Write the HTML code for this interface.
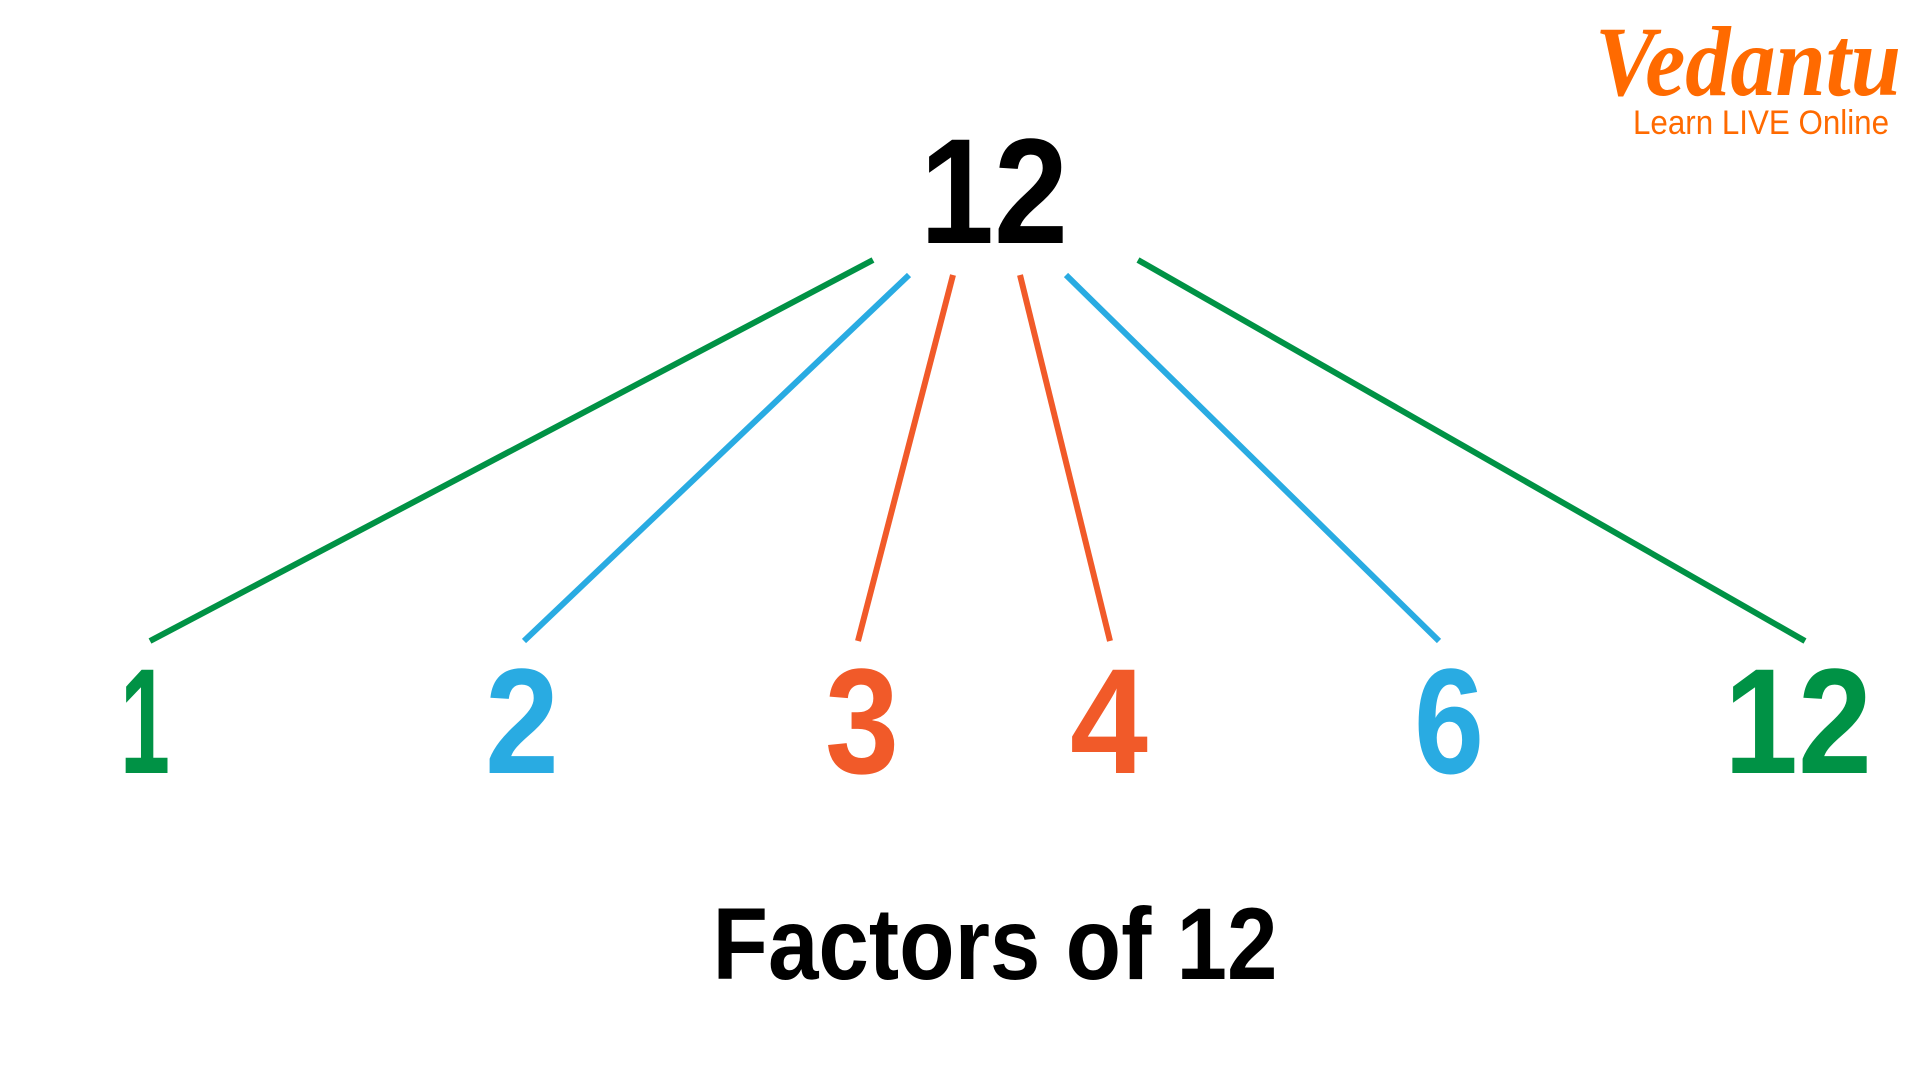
<!DOCTYPE html>
<html><head><meta charset="utf-8"><style>
html,body{margin:0;padding:0;background:#fff;width:1920px;height:1080px;overflow:hidden}
svg text{font-family:"Liberation Sans",sans-serif;font-weight:bold}
</style></head><body>
<svg width="1920" height="1080" viewBox="0 0 1920 1080" xmlns="http://www.w3.org/2000/svg">
<text x="994" y="243" font-size="150" text-anchor="middle" fill="#000" textLength="148" lengthAdjust="spacingAndGlyphs">12</text>
<g stroke-width="6" fill="none">
<line x1="873" y1="260" x2="150" y2="641" stroke="#009245"/>
<line x1="909" y1="275" x2="524" y2="641" stroke="#29abe2"/>
<line x1="953" y1="275" x2="858" y2="641" stroke="#f15a29"/>
<line x1="1020" y1="275" x2="1110" y2="641" stroke="#f15a29"/>
<line x1="1066" y1="275" x2="1439" y2="641" stroke="#29abe2"/>
<line x1="1138" y1="260" x2="1805" y2="641" stroke="#009245"/>
</g>
<g font-size="150" text-anchor="middle">
<text x="145" y="773" fill="#009245" textLength="50" lengthAdjust="spacingAndGlyphs">1</text>
<text x="522" y="773" fill="#29abe2" textLength="74" lengthAdjust="spacingAndGlyphs">2</text>
<text x="862" y="773" fill="#f15a29" textLength="74" lengthAdjust="spacingAndGlyphs">3</text>
<text x="1109" y="773" fill="#f15a29" textLength="78" lengthAdjust="spacingAndGlyphs">4</text>
<text x="1449" y="773" fill="#29abe2" textLength="70" lengthAdjust="spacingAndGlyphs">6</text>
<text x="1798" y="773" fill="#009245" textLength="148" lengthAdjust="spacingAndGlyphs">12</text>
</g>
<text x="995" y="979" font-size="102" text-anchor="middle" fill="#000" textLength="565" lengthAdjust="spacingAndGlyphs">Factors of 12</text>
<text x="1748" y="95" font-size="100" font-style="italic" text-anchor="middle" fill="#ff6a00" style="font-family:'Liberation Serif',serif;font-weight:bold" textLength="306" lengthAdjust="spacingAndGlyphs">Vedantu</text>
<text x="1761" y="134" font-size="34" text-anchor="middle" fill="#ff6a00" style="font-weight:normal" textLength="256" lengthAdjust="spacingAndGlyphs">Learn LIVE Online</text>
</svg>
</body></html>
